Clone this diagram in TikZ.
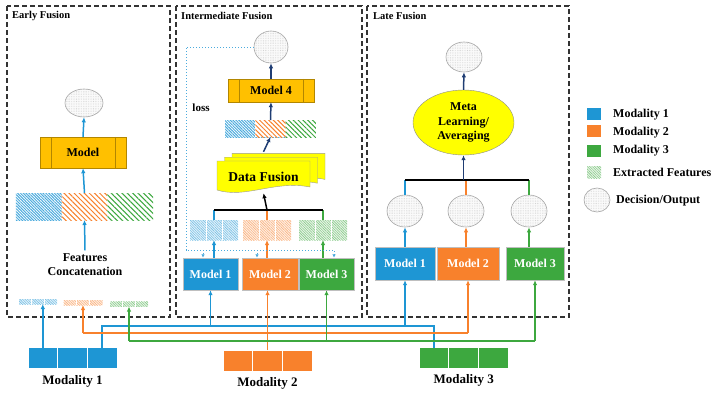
\documentclass[tikz,border=0pt]{standalone}
\usepackage{fontspec}
\setmainfont{Liberation Serif}
\usetikzlibrary{arrows.meta,positioning,shapes.geometric,patterns.meta,calc}

\definecolor{cblue}{HTML}{1E96D4}
\definecolor{corange}{HTML}{F8812C}
\definecolor{cgreen}{HTML}{3DA83F}
\definecolor{cgold}{HTML}{FFC000}
\definecolor{cyel}{HTML}{FFFF00}
\definecolor{cnavy}{HTML}{1F3D73}

\begin{document}
\begin{tikzpicture}[x=1pt, y=-1pt,
  frame/.style={draw=black!80, line width=1.2pt, dash pattern=on 5pt off 3pt},
  ttl/.style={anchor=west, inner sep=0pt, font=\bfseries\fontsize{10.5}{12}\selectfont},
  txt/.style={align=center, font=\bfseries\fontsize{12}{14}\selectfont},
  proc/.style={draw=cgold!70!black, fill=cgold, txt, inner sep=0pt},
  mbox/.style={draw=black!25, txt, text=white, inner sep=0pt, minimum height=32},
  dec/.style={ellipse, draw=black!35, line width=0.6pt, inner sep=0pt, preaction={fill=black!2},
    pattern={Dots[distance=1.7pt, radius=0.3pt]}, pattern color=black!25},
  hatch/.style={preaction={fill=white}, pattern={Lines[angle=-45, distance=#1, line width=1pt]},
    inner sep=0pt, outer sep=0pt},
  fine/.style={preaction={fill=#1!12}, pattern={Lines[angle=-45, distance=1.8pt, line width=0.6pt]},
    pattern color=#1!60, inner sep=0pt, outer sep=0pt},
  modcell/.style={draw=white, line width=0.8pt, minimum width=29.7, minimum height=21, inner sep=0pt, outer sep=0pt},
  modlbl/.style={font=\bfseries\fontsize{13}{15}\selectfont},
  lgsq/.style={minimum width=14, minimum height=12, inner sep=0pt},
  lgtxt/.style={anchor=west, inner sep=0pt, font=\bfseries\fontsize{12}{13}\selectfont},
  arr/.style={-{Latex[length=5pt, width=4.5pt]}, line width=1.5pt},
  narr/.style={arr, draw=cnavy},
  barr/.style={arr, draw=cblue},
  wire/.style={line width=1.5pt},
  loss/.style={draw=cblue!80, line width=1pt, dotted, -{Latex[length=3.5pt, width=3.5pt]}}
]
\useasboundingbox (0,0) rectangle (720,399);

% panels
\draw[frame] (7,6) rectangle (170,317);
\draw[frame] (176,6) rectangle (362,317);
\draw[frame] (367,6) rectangle (569,317);
\node[ttl] (t1) at (12,16) {Early Fusion};
\node[ttl] (t2) at (181,16) {Intermediate Fusion};
\node[ttl] (t3) at (373,16) {Late Fusion};

% early fusion
\node[dec, minimum width=38, minimum height=28] (ecirc) at (84,103) {};
\node[proc, minimum width=86, minimum height=31] (em) at (83,152.5) {Model};
\node[hatch=2pt, pattern color=cblue!80, minimum width=45.7, minimum height=27] (efx1) at (38.8,206.5) {};
\node[hatch=3.6pt, pattern color=corange, minimum width=45.7, minimum height=27, right=0pt of efx1] (efx2) {};
\node[hatch=3.8pt, pattern color=cgreen, minimum width=45.7, minimum height=27, right=0pt of efx2] (efx3) {};
\node[txt] (fct) at (85,265) {Features\\Concatenation};
\node[fine=cblue, minimum width=38, minimum height=5] (efa) at (38,301.5) {};
\node[fine=corange, minimum width=39, minimum height=5] (efb) at (83,302.5) {};
\node[fine=cgreen, minimum width=38, minimum height=5] (efc) at (129,304) {};

\draw[barr] (em.north) -- (ecirc.south);
\draw[barr] (efx2.north) -- (em.south);
\draw[barr] (fct.north) -- (efx2.south);

% intermediate fusion
\node[dec, minimum width=34, minimum height=32] (icirc) at (271,47) {};
\node[proc, minimum width=86, minimum height=23] (im4) at (271,90.5) {Model 4};
\node[hatch=2pt, pattern color=cblue!80, minimum width=30.3, minimum height=17] (ifx2) at (270.5,128.5) {};
\node[hatch=2pt, pattern color=cblue!80, minimum width=30.3, minimum height=17, left=0pt of ifx2] (ifx1) {};
\node[hatch=3.2pt, pattern color=corange, minimum width=30.3, minimum height=17] at (ifx2) {};
\node[hatch=3.4pt, pattern color=cgreen, minimum width=30.3, minimum height=17, right=0pt of ifx2] (ifx3) {};
\foreach \d in {2,1,0}
  \draw[draw=black!40, fill=cyel, shift={({7.5*\d},{-3.8*\d})}]
    (217,161) -- (310,161) -- (310,187) .. controls (275,180) and (245,199) .. (217,190) -- cycle;
\node[minimum width=93, minimum height=32, font=\bfseries\fontsize{13.5}{16}\selectfont] (fusion) at (263.5,177) {Data Fusion};
\node[fine=cblue, minimum width=48, minimum height=20] (if1) at (214,230) {};
\node[fine=corange, minimum width=48, minimum height=20] (if2) at (267,230) {};
\node[fine=cgreen, minimum width=48, minimum height=20] (if3) at (323,230) {};
\node[mbox, fill=cblue, minimum width=55] (im1) at (210.5,274) {Model 1};
\node[mbox, fill=corange, minimum width=56] (im2) at (270,274) {Model 2};
\node[mbox, fill=cgreen, minimum width=55] (im3) at (326.5,274) {Model 3};
\node[font=\bfseries\fontsize{11}{13}\selectfont] (losslbl) at (201,108) {loss};
\coordinate (ibar) at (0,210);
\coordinate (lossy) at (0,250);
\coordinate (lossx) at (186,0);

\draw[narr] (im4.north) -- (icirc.south);
\draw[narr] (ifx2.north) -- (im4.south);
\draw[narr] ([yshift=9pt]fusion.north) -- (ifx2.south);
\draw[wire, cblue] (if1.north) -- (if1.north |- ibar);
\draw[wire, corange] (if2.north) -- (if2.north |- ibar);
\draw[wire, cgreen] (if3.north) -- (if3.north |- ibar);
\draw[wire, black] (if1.north |- ibar) -- (if3.north |- ibar);
\draw[arr, black] (if2.north |- ibar) -- (fusion.south);
\draw[arr, cblue] (if1.south |- im1.north) -- (if1.south);
\draw[arr, corange] (if2.south |- im2.north) -- (if2.south);
\draw[arr, cgreen] (if3.south |- im3.north) -- (if3.south);
\draw[loss] (icirc.west) -| (lossx |- lossy) -| ([xshift=7.5pt]im3.north);
\draw[loss] ([xshift=-7.5pt]im1.north |- lossy) -- ([xshift=-7.5pt]im1.north);
\draw[loss] ([xshift=-13pt]im2.north |- lossy) -- ([xshift=-13pt]im2.north);

% late fusion
\node[dec, minimum width=36, minimum height=30] (lcirc) at (464,57) {};
\node[ellipse, draw=black!45, fill=cyel, minimum width=101, minimum height=65, inner sep=0pt,
  align=center, font=\bfseries\fontsize{12}{14.5}\selectfont] (meta) at (463.5,122.5) {Meta\\Learning/\\Averaging};
\node[dec, minimum width=36, minimum height=32] (lc1) at (405,211) {};
\node[dec, minimum width=36, minimum height=32] (lc2) at (466,211) {};
\node[dec, minimum width=36, minimum height=32] (lc3) at (529,211) {};
\node[mbox, fill=cblue, minimum width=60, minimum height=33] (lm1) at (405,263.5) {Model 1};
\node[mbox, fill=corange, minimum width=62, minimum height=33] (lm2) at (468,263.5) {Model 2};
\node[mbox, fill=cgreen, minimum width=58, minimum height=33] (lm3) at (535,263.5) {Model 3};
\coordinate (lbar) at (0,180);

\draw[narr] (meta.north) -- (lcirc.south);
\draw[wire, cblue] (lc1.north) -- (lc1.north |- lbar);
\draw[wire, corange] (lc2.north) -- (lc2.north |- lbar);
\draw[wire, cgreen] (lc3.north) -- (lc3.north |- lbar);
\draw[wire, black] (lc1.north |- lbar) -- (lc3.north |- lbar);
\draw[narr] (meta.south |- lbar) -- (meta.south);
\draw[arr, cblue] (lc1.south |- lm1.north) -- (lc1.south);
\draw[arr, corange] (lc2.south |- lm2.north) -- (lc2.south);
\draw[arr, cgreen] (lc3.south |- lm3.north) -- (lc3.south);

% cell dividers
\foreach \n in {if1,if2,if3,efa,efb,efc}
  \draw[white, line width=0.9pt]
    ($(\n.north west)!1/3!(\n.north east)$) -- ($(\n.south west)!1/3!(\n.south east)$)
    ($(\n.north west)!2/3!(\n.north east)$) -- ($(\n.south west)!2/3!(\n.south east)$);
\foreach \n in {em,im4}
  \draw[cgold!70!black] ([xshift=11pt]\n.north west) -- ([xshift=11pt]\n.south west)
    ([xshift=-11pt]\n.north east) -- ([xshift=-11pt]\n.south east);

% modalities
\foreach \m/\x/\y/\c in {1/42.8/358/cblue, 2/237.8/360.5/corange, 3/434/358/cgreen} {
  \node[modcell, fill=\c] (mod\m-a) at (\x,\y) {};
  \node[modcell, fill=\c, right=0pt of mod\m-a] (mod\m-b) {};
  \node[modcell, fill=\c, right=0pt of mod\m-b] (mod\m-c) {};
}
\node[modlbl, below=3pt of mod1-b] (ml1) {Modality 1};
\node[modlbl, below=3pt of mod2-b] (ml2) {Modality 2};
\node[modlbl, below=2pt of mod3-b] (ml3) {Modality 3};

\coordinate (bbus) at (0,326);
\coordinate (obus) at (0,333);
\coordinate (gbus) at (0,341);
\draw[arr, cblue] (mod1-a.north) -- (mod1-a.north |- efa.south);
\draw[wire, cblue] (mod1-c.north) |- (bbus -| mod3-a.north) -- (mod3-a.north);
\draw[arr, cblue] (bbus -| im1.south) -- (im1.south);
\draw[arr, cblue] (bbus -| lm1.south) -- (lm1.south);
\draw[wire, corange] (obus -| efb.south) -- (obus -| lm2.south);
\draw[arr, corange] (obus -| efb.south) -- (efb.south);
\draw[arr, corange] (obus -| lm2.south) -- (lm2.south);
\draw[arr, corange] (mod2-b.north) -- (mod2-b.north |- im2.south);
\draw[wire, cgreen] (gbus -| efc.south) -- (gbus -| lm3.south);
\draw[arr, cgreen] (gbus -| efc.south) -- (efc.south);
\draw[arr, cgreen] (gbus -| im3.south) -- (im3.south);
\draw[arr, cgreen] (gbus -| lm3.south) -- (lm3.south);

% legend
\node[lgsq, fill=cblue] (lg1) at (594,114) {};
\node[lgsq, fill=corange] (lg2) at (594,131) {};
\node[lgsq, fill=cgreen] (lg3) at (594,151) {};
\node[lgsq, fine=cgreen] (lg4) at (594,172) {};
\node[dec, minimum width=26, minimum height=24] (lg5) at (597,200) {};
\node[lgtxt] (lt1) at (613,115) {Modality 1};
\node[lgtxt] (lt2) at (613,133) {Modality 2};
\node[lgtxt] (lt3) at (613,151) {Modality 3};
\node[lgtxt] (lt4) at (613,172) {Extracted Features};
\node[lgtxt] (lt5) at (616,201) {Decision/Output};
\end{tikzpicture}
\end{document}
